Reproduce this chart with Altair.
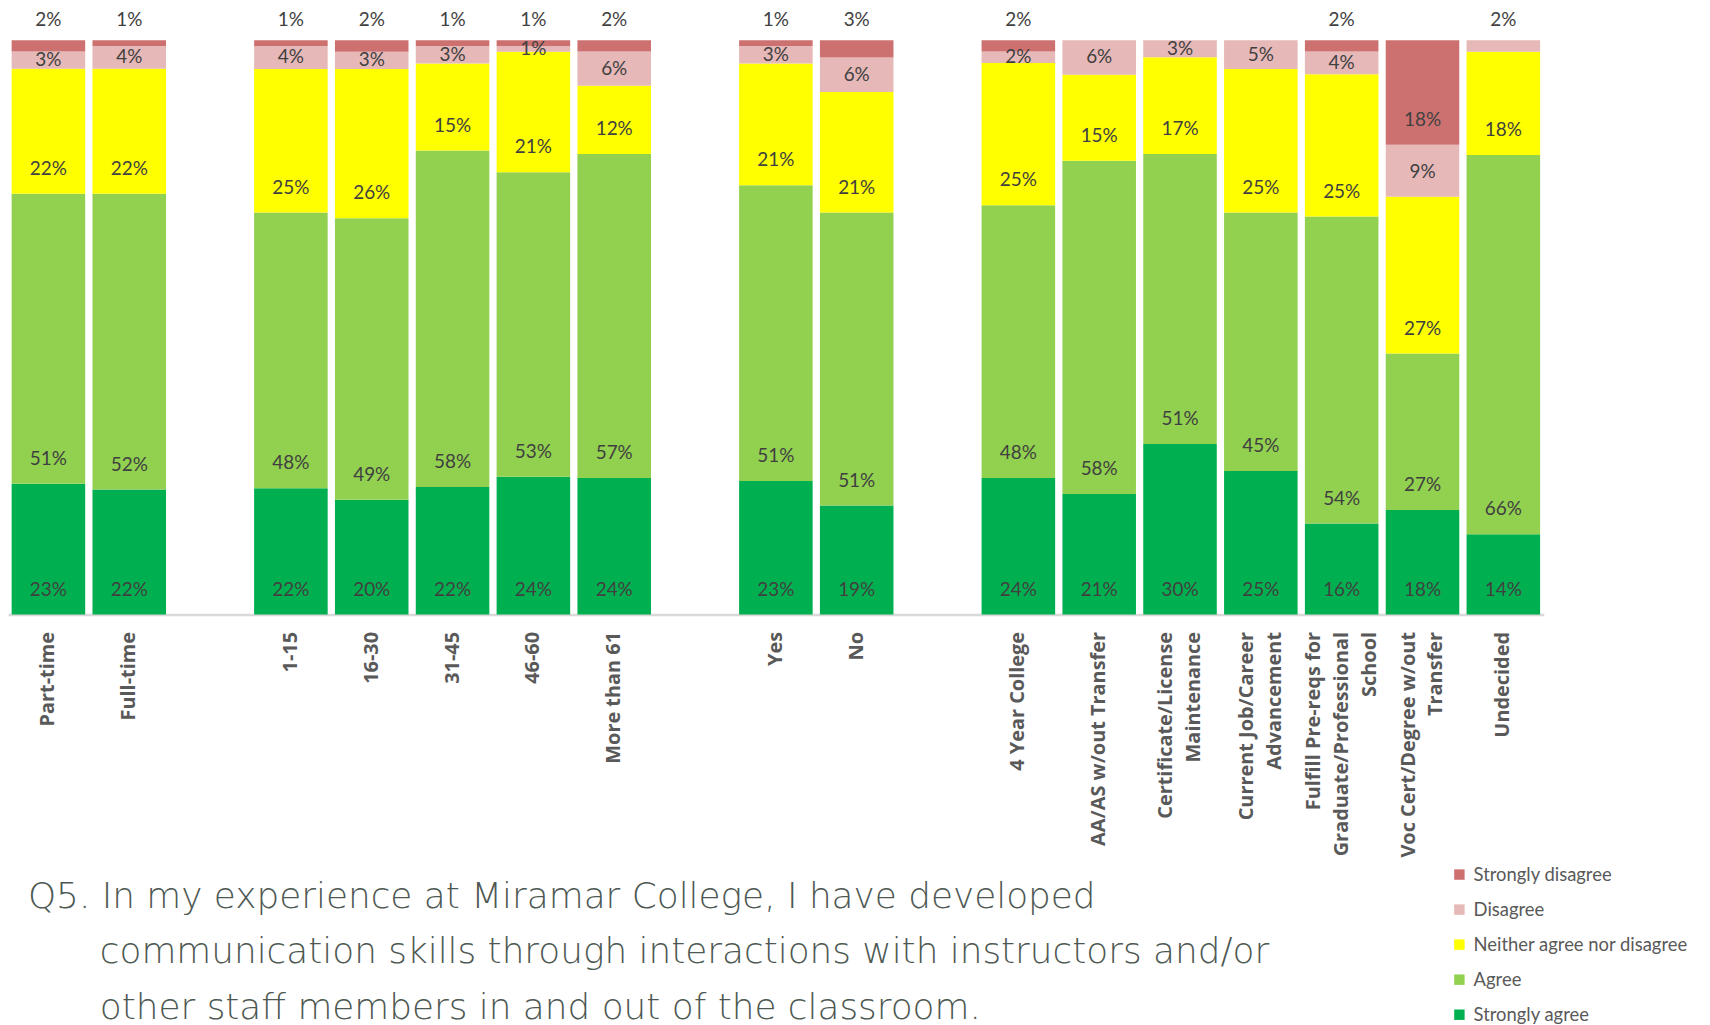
import altair as alt
import pandas as pd

# ---------------- data ----------------
categories = [
    "Part-time", "Full-time",
    "1-15", "16-30", "31-45", "46-60", "More than 61",
    "Yes", "No",
    "4 Year College", "AA/AS w/out Transfer", "Certificate/License\nMaintenance",
    "Current Job/Career\nAdvancement", "Fulfill Pre-reqs for\nGraduate/Professional\nSchool",
    "Voc Cert/Degree w/out\nTransfer", "Undecided",
]
strongly_agree    = [23, 22, 22, 20, 22, 24, 24, 23, 19, 24, 21, 30, 25, 16, 18, 14]
agree             = [51, 52, 48, 49, 58, 53, 57, 51, 51, 48, 58, 51, 45, 54, 27, 66]
neither           = [22, 22, 25, 26, 15, 21, 12, 21, 21, 25, 15, 17, 25, 25, 27, 18]
disagree          = [3, 4, 4, 3, 3, 1, 6, 3, 6, 2, 6, 3, 5, 4, 9, 2]
strongly_disagree = [2, 1, 1, 2, 1, 1, 2, 1, 3, 2, 0, 0, 0, 2, 18, 0]

responses = ["Strongly agree", "Agree", "Neither agree nor disagree", "Disagree", "Strongly disagree"]
legend_order = ["Strongly disagree", "Disagree", "Neither agree nor disagree", "Agree", "Strongly agree"]
colors = ["#CD7170", "#E6B8B7", "#FFFF00", "#92D050", "#00B050"]

# blank slots separating the groups
x_domain = categories[:2] + [" "] + categories[2:7] + ["  "] + categories[7:9] + ["   "] + categories[9:]

INDENT = "\u200b" + "\u00a0" * 6 + "\u200a"
title_lines = [
    "Q5. In my experience at Miramar College, I have developed",
    INDENT + "communication skills through interactions with instructors and/or",
    INDENT + "other staff members in and out of the classroom.",
]

series = [strongly_agree, agree, neither, disagree, strongly_disagree]
rows = []
for order, (resp, vals) in enumerate(zip(responses, series)):
    for cat, v in zip(categories, vals):
        rows.append({"Category": cat, "Response": resp, "value": v, "order": order})
df = pd.DataFrame(rows)

# ---------------- chart ----------------
base = (
    alt.Chart(df)
    .transform_filter("datum.value > 0")
    .transform_stack(
        stack="value",
        groupby=["Category"],
        as_=["y0", "y1"],
        offset="normalize",
        sort=[alt.SortField("order", order="ascending")],
    )
)

LINE_H = 28
x_enc = alt.X(
    "Category:N",
    scale=alt.Scale(domain=x_domain, paddingInner=0.09, paddingOuter=0.045),
    sort=x_domain,
    title=None,
    axis=alt.Axis(
        labelAngle=-90,
        labelAlign="right",
        labelBaseline="middle",
        labelExpr="split(datum.label, '\\n')",
        labelLineHeight=LINE_H,
        labelOffset={
            "condition": [
                {"test": "length(split(datum.value, '\\n')) == 3", "value": -LINE_H},
                {"test": "length(split(datum.value, '\\n')) == 2", "value": -LINE_H / 2},
            ],
            "value": 0,
        },
        labelFont="Open Sans",
        labelFontWeight="bold",
        labelFontSize=20,
        labelColor="#595959",
        labelPadding=17,
        ticks=False,
        domainColor="#D9D9D9",
        domainWidth=2.5,
        labelLimit=400,
        labelOverlap=False,
    ),
)

y_scale = alt.Scale(domain=[0, 1], nice=False, zero=True)

bars = base.mark_bar().encode(
    x=x_enc,
    y=alt.Y("y0:Q", scale=y_scale, axis=None),
    y2="y1:Q",
    color=alt.Color(
        "Response:N",
        scale=alt.Scale(domain=legend_order, range=colors),
        legend=alt.Legend(
            title=None,
            orient="none",
            legendX=1449,
            legendY=829,
            symbolType="square",
            symbolSize=110,
            symbolStrokeWidth=0,
            labelFont="Lato",
            labelFontSize=18.5,
            labelColor="#595959",
            labelOffset=5,
            labelLimit=400,
            rowPadding=16.2,
        ),
    ),
)

labels = (
    base.transform_calculate(
        label="datum.value + '%'",
        ly="((datum.Response == 'Strongly disagree' && datum.value <= 3) || (datum.y1 > 0.999 && datum.value <= 2))"
           " ? 1.035 : ((datum.y1 - datum.y0) > 0.0866 ? datum.y0 + 0.0433 : (datum.y0 + datum.y1) / 2)",
    )
    .mark_text(font="Lato", fontSize=19, color="#404040", baseline="middle", align="center")
    .encode(
        x=alt.X("Category:N", scale=alt.Scale(domain=x_domain), sort=x_domain),
        y=alt.Y("ly:Q", scale=y_scale, stack=None),
        text="label:N",
    )
)

chart = (
    alt.layer(bars, labels)
    .properties(
        width=1543,
        height=577,
        padding={"left": 0, "top": 30, "right": 159, "bottom": 410},
        autosize=alt.AutoSizeParams(type="none"),
        title=alt.TitleParams(
            text=title_lines,
            orient="bottom",
            anchor="start",
            frame="group",
            font="DejaVu Sans",
            fontSize=36,
            fontWeight=200,
            color="#4E5853",
            lineHeight=55.5,
            offset=-145,
            dx=20,
        ),
        background="white",
    )
    .configure_view(stroke=None)
)

chart.save("out.html", embed_options={"renderer": "svg", "actions": False})
